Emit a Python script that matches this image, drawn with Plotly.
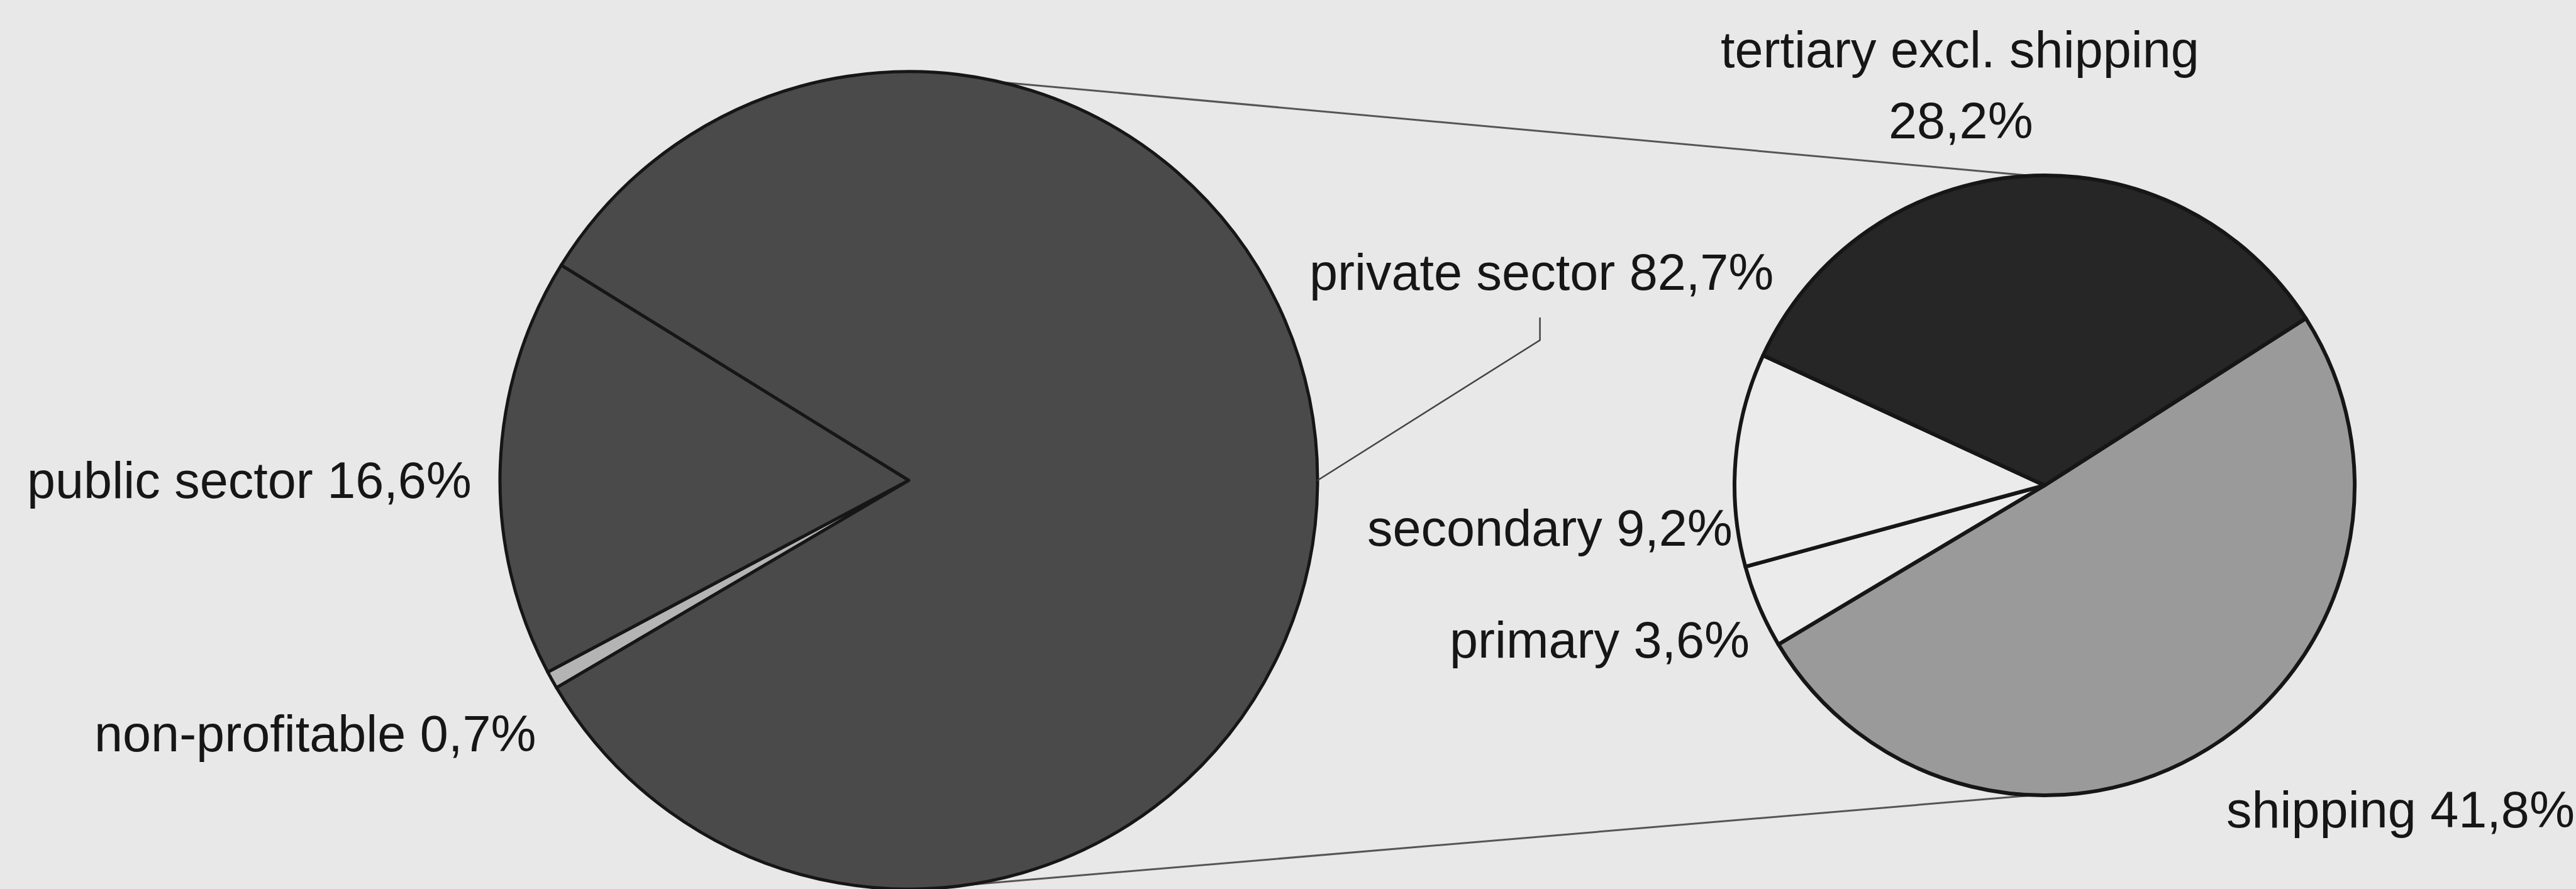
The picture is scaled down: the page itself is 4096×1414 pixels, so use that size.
import math
import plotly.graph_objects as go

# Employment by sector of the whole economy (%)
main_labels = ["non-profitable", "public sector", "private sector"]
main_values = [0.7, 16.6, 82.7]

# Breakdown of the private sector (% of the whole economy)
sub_labels = ["shipping", "primary", "secondary", "tertiary excl. shipping"]
sub_values = [41.8, 3.6, 9.2, 28.2]

# ---- styling -------------------------------------------------------------
W, H = 4096, 1414
PAPER = "#e8e8e8"
OUTLINE = "#161616"
TEXT = "#161616"
FONT = "Liberation Sans, Arial, sans-serif"
FONT_SIZE = 81

main_colors = ["#b4b4b4", "#4a4a4a", "#4a4a4a"]
sub_colors = ["#9a9a9a", "#ebebeb", "#ebebeb", "#262626"]

# pie placement in pixels: centre x, centre y (from top), radius
MAIN_PIE = (1445.0, 764.0, 650.0)
SUB_PIE = (3251.0, 772.0, 493.0)


def px(x):
    return x / W


def py(y):
    return 1 - y / H


def domain(cx, cy, r):
    return dict(x=[px(cx - r), px(cx + r)],
                y=[max(0.0, py(cy + r)), min(1.0, py(cy - r))])


def rim(pie, angle):
    """Point on a pie's rim, angle clockwise from 12 o'clock."""
    cx, cy, r = pie
    a = math.radians(angle)
    return cx + r * math.sin(a), cy - r * math.cos(a)


def fmt(v):
    return f"{v:.1f}".replace(".", ",") + "%"


fig = go.Figure()

fig.add_trace(go.Pie(
    labels=main_labels, values=main_values, sort=False,
    direction="clockwise", rotation=239.5,
    marker=dict(colors=main_colors, line=dict(color=OUTLINE, width=5)),
    textinfo="none", hoverinfo="label+percent", showlegend=False,
    domain=domain(*MAIN_PIE),
))

fig.add_trace(go.Pie(
    labels=sub_labels, values=sub_values, sort=False,
    direction="clockwise", rotation=57.4,
    marker=dict(colors=sub_colors, line=dict(color=OUTLINE, width=6)),
    textinfo="none", hoverinfo="label+value", showlegend=False,
    domain=domain(*SUB_PIE),
))

# connector lines between the two pies
shapes = []
for a_main, a_sub in [(13, -2.5), (172, 182)]:
    x0, y0 = rim(MAIN_PIE, a_main)
    x1, y1 = rim(SUB_PIE, a_sub)
    shapes.append(dict(type="line", xref="paper", yref="paper", layer="below",
                       x0=px(x0), y0=py(y0), x1=px(x1), y1=py(y1),
                       line=dict(color="#555555", width=3)))

# leader line for the private-sector label
lx, ly = 2448.6, 505.0
ex, ey = rim(MAIN_PIE, 90)
path = (f"M {px(lx)} {py(ly)} L {px(lx)} {py(ly + 36)} "
        f"L {px(ex)} {py(ey)}")
shapes.append(dict(type="path", xref="paper", yref="paper", path=path,
                   line=dict(color="#444444", width=2.5)))

# labels: text, centre x, centre y (pixels)
labels = [
    ("tertiary excl. shipping", 3116.0, 78.7),
    (fmt(sub_values[3]), 3118.0, 191.9),
    (f"private sector {fmt(main_values[2])}", 2451.0, 433.0),
    (f"public sector {fmt(main_values[1])}", 396.0, 764.0),
    (f"non-profitable {fmt(main_values[0])}", 500.5, 1167.0),
    (f"secondary {fmt(sub_values[2])}", 2464.5, 840.0),
    (f"primary {fmt(sub_values[1])}", 2543.0, 1018.0),
    (f"shipping {fmt(sub_values[0])}", 3816.6, 1287.5),
]
annotations = [
    dict(text=t, x=px(x), y=py(y), xref="paper", yref="paper",
         xanchor="center", yanchor="middle", showarrow=False,
         font=dict(family=FONT, size=FONT_SIZE, color=TEXT))
    for t, x, y in labels
]

fig.update_layout(
    width=W, height=H,
    margin=dict(l=0, r=0, t=0, b=0),
    paper_bgcolor=PAPER, plot_bgcolor=PAPER,
    shapes=shapes, annotations=annotations,
)

fig.write_html("out.html")
